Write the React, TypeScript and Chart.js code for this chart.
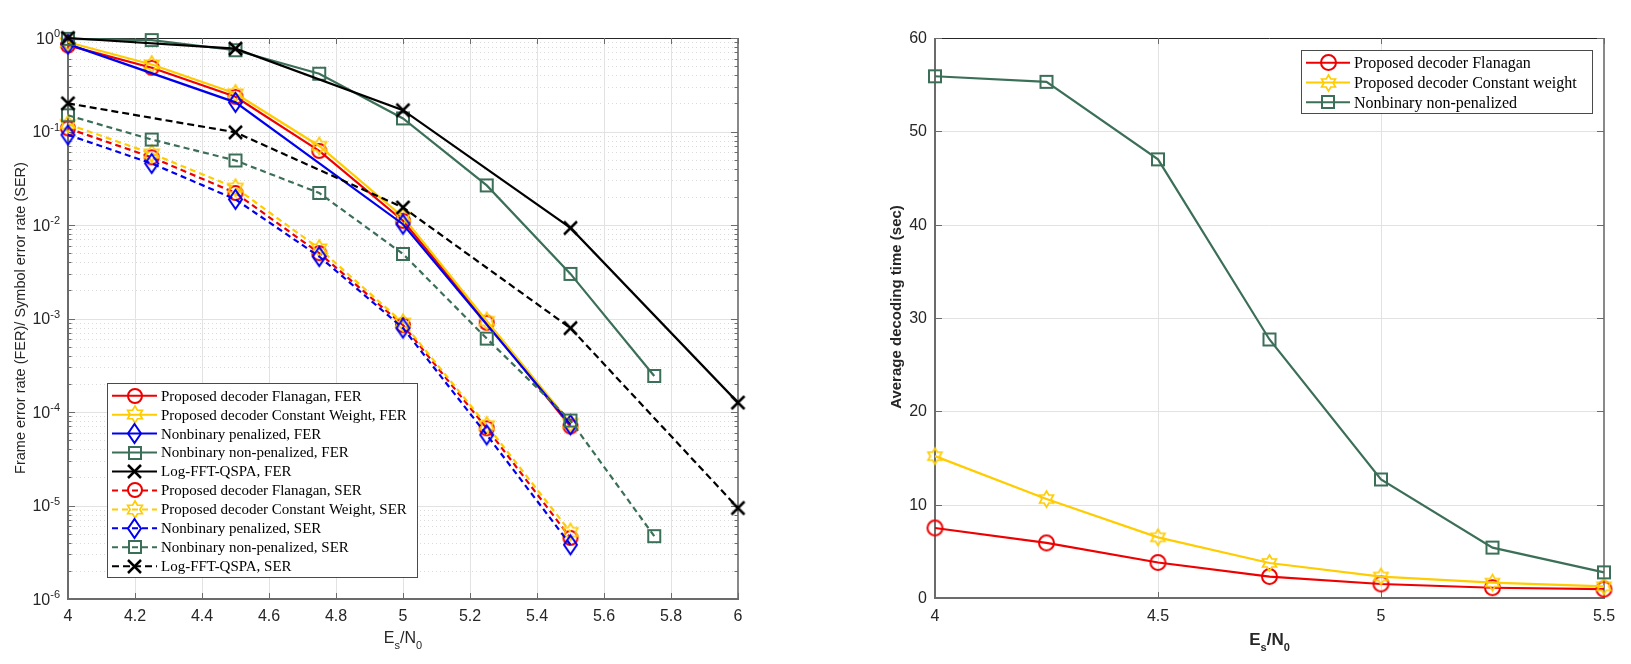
import React, { useEffect, useRef } from "react";
import { Chart, registerables } from "chart.js";

Chart.register(...registerables);

// ---------------- Data: left panel (error rates) ----------------
const SNR_SEVEN = [4, 4.25, 4.5, 4.75, 5, 5.25, 5.5];
const SNR_EIGHT = [4, 4.25, 4.5, 4.75, 5, 5.25, 5.5, 5.75];
const SNR_PENALIZED = [4, 4.5, 5, 5.5];
const SNR_LOGFFT = [4, 4.5, 5, 5.5, 6];

const flanaganFER = [0.835, 0.48, 0.235, 0.062, 0.0111, 9.0e-4, 7.0e-5];
const constantWeightFER = [0.9, 0.52, 0.255, 0.07, 0.0122, 9.4e-4, 7.6e-5];
const penalizedFER = [0.86, 0.205, 0.0102, 7.3e-5];
const nonPenalizedFER = [0.98, 0.95, 0.74, 0.415, 0.138, 0.0265, 0.003, 2.43e-4];
const logFftFER = [1.0, 0.77, 0.169, 0.0093, 1.26e-4];

const flanaganSER = [0.108, 0.053, 0.022, 0.005, 8.5e-4, 6.7e-5, 4.5e-6];
const constantWeightSER = [0.12, 0.058, 0.025, 0.0056, 9.0e-4, 7.2e-5, 5.2e-6];
const penalizedSER = [0.092, 0.0455, 0.0188, 0.0046, 7.9e-4, 5.7e-5, 3.8e-6];
const nonPenalizedSER = [0.149, 0.082, 0.049, 0.022, 0.0049, 6.1e-4, 8.1e-5, 4.7e-6];
const logFftSER = [0.2, 0.098, 0.0154, 7.9e-4, 9.4e-6];

// ---------------- Data: right panel (decoding time) ----------------
const SNR_TIME = [4, 4.25, 4.5, 4.75, 5, 5.25, 5.5];
const timeFlanagan = [7.5, 5.9, 3.8, 2.3, 1.5, 1.1, 0.95];
const timeConstantWeight = [15.2, 10.6, 6.5, 3.75, 2.3, 1.65, 1.25];
const timeNonPenalized = [55.9, 55.3, 47.0, 27.7, 12.7, 5.4, 2.75];

// ---------------- Ticks / labels ----------------
const LEFT_X_TICKS = [4, 4.2, 4.4, 4.6, 4.8, 5, 5.2, 5.4, 5.6, 5.8, 6];
const LEFT_X_TICK_LABELS = ["4", "4.2", "4.4", "4.6", "4.8", "5", "5.2", "5.4", "5.6", "5.8", "6"];
const LEFT_Y_EXPONENTS = [0, -1, -2, -3, -4, -5, -6];
const RIGHT_X_TICKS = [4, 4.5, 5, 5.5];
const RIGHT_X_TICK_LABELS = ["4", "4.5", "5", "5.5"];
const RIGHT_Y_TICKS = [0, 10, 20, 30, 40, 50, 60];
const RIGHT_Y_TICK_LABELS = ["0", "10", "20", "30", "40", "50", "60"];

const LEFT_Y_TITLE = "Frame error rate (FER)/ Symbol error rate (SER)";
const RIGHT_Y_TITLE = "Average decoding time (sec)";

// ---------------- Styles ----------------
const RED = "#ee0000";
const YELLOW = "#ffcc00";
const BLUE = "#0000ee";
const GREEN = "#3c6f58";
const BLACK = "#000000";

const AXIS_GRAY = "#6b6b6b";
const TOP_DARK = "#262626";
const GRID = "#e2e2e2";
const MINOR_GRID = "#dadada";
const TEXT = "#262626";
const TICK_FONT = '16px "Liberation Sans Narrow", "Liberation Sans", Arial, sans-serif';
const EXP_FONT = '11px "Liberation Sans Narrow", "Liberation Sans", Arial, sans-serif';

const CANVAS_L_W = 800;
const CANVAS_R_X = 800;
const CANVAS_R_W = 831;
const H = 664;

type MarkerKind = "circle" | "hexagram" | "diamond" | "square" | "x";

function makeMarker(kind: MarkerKind, color: string, w: number, h: number, lw: number): HTMLCanvasElement {
  const pad = Math.ceil(lw) + 2;
  const cw = Math.ceil(w) + pad * 2;
  const ch = Math.ceil(h) + pad * 2;
  const c = document.createElement("canvas");
  c.width = cw;
  c.height = ch;
  const ctx = c.getContext("2d")!;
  ctx.strokeStyle = color;
  ctx.lineWidth = lw;
  ctx.lineJoin = "miter";
  const cx = cw / 2;
  const cy = ch / 2;
  ctx.beginPath();
  if (kind === "circle") {
    ctx.arc(cx, cy, w / 2, 0, Math.PI * 2);
  } else if (kind === "square") {
    ctx.rect(cx - w / 2, cy - h / 2, w, h);
  } else if (kind === "diamond") {
    ctx.moveTo(cx, cy - h / 2);
    ctx.lineTo(cx + w / 2, cy);
    ctx.lineTo(cx, cy + h / 2);
    ctx.lineTo(cx - w / 2, cy);
    ctx.closePath();
  } else if (kind === "hexagram") {
    const R = h / 2;
    const r = R / Math.sqrt(3);
    for (let i = 0; i < 12; i++) {
      const a = -Math.PI / 2 + (i * Math.PI) / 6;
      const rr = i % 2 === 0 ? R : r;
      const px = cx + rr * Math.cos(a);
      const py = cy + rr * Math.sin(a);
      if (i === 0) ctx.moveTo(px, py);
      else ctx.lineTo(px, py);
    }
    ctx.closePath();
  } else {
    ctx.moveTo(cx - w / 2, cy - h / 2);
    ctx.lineTo(cx + w / 2, cy + h / 2);
    ctx.moveTo(cx + w / 2, cy - h / 2);
    ctx.lineTo(cx - w / 2, cy + h / 2);
  }
  ctx.stroke();
  return c;
}

type Series = {
  label: string;
  xs: number[];
  ys: number[];
  color: string;
  marker: HTMLCanvasElement;
  dash: number[];
};

function hLine(ctx: CanvasRenderingContext2D, x1: number, x2: number, y: number) {
  ctx.beginPath();
  ctx.moveTo(x1, y);
  ctx.lineTo(x2, y);
  ctx.stroke();
}
function vLine(ctx: CanvasRenderingContext2D, x: number, y1: number, y2: number) {
  ctx.beginPath();
  ctx.moveTo(x, y1);
  ctx.lineTo(x, y2);
  ctx.stroke();
}
const snap = (v: number) => Math.round(v) + 0.5;

function drawFrame(ctx: CanvasRenderingContext2D, a: any) {
  ctx.save();
  ctx.setLineDash([]);
  ctx.strokeStyle = TOP_DARK;
  ctx.lineWidth = 1;
  hLine(ctx, a.left, a.right, snap(a.top));
  ctx.strokeStyle = AXIS_GRAY;
  ctx.lineWidth = 1.6;
  vLine(ctx, a.right, a.top, a.bottom);
  ctx.lineWidth = 2;
  vLine(ctx, Math.round(a.left), a.top, a.bottom + 1);
  hLine(ctx, a.left - 1, a.right + 1, Math.round(a.bottom));
  ctx.restore();
}

function drawSubLabel(
  ctx: CanvasRenderingContext2D,
  cx: number,
  baseline: number,
  weight: string,
  size: number,
  subSize: number
) {
  const big = `${weight} ${size}px "Liberation Sans", Arial, sans-serif`;
  const small = `${weight} ${subSize}px "Liberation Sans", Arial, sans-serif`;
  const parts: [string, boolean][] = [
    ["E", false],
    ["s", true],
    ["/N", false],
    ["0", true],
  ];
  let total = 0;
  const widths: number[] = [];
  for (const [t, sub] of parts) {
    ctx.font = sub ? small : big;
    const w = ctx.measureText(t).width;
    widths.push(w);
    total += w;
  }
  let x = cx - total / 2;
  ctx.fillStyle = TEXT;
  ctx.textAlign = "left";
  ctx.textBaseline = "alphabetic";
  parts.forEach(([t, sub], i) => {
    ctx.font = sub ? small : big;
    ctx.fillText(t, x, sub ? baseline + 6 : baseline);
    x += widths[i];
  });
}

function drawRotated(ctx: CanvasRenderingContext2D, text: string, cx: number, cy: number, font: string) {
  ctx.save();
  ctx.translate(cx, cy);
  ctx.rotate(-Math.PI / 2);
  ctx.font = font;
  ctx.fillStyle = TEXT;
  ctx.textAlign = "center";
  ctx.textBaseline = "middle";
  ctx.fillText(text, 0, 0);
  ctx.restore();
}

type LegendCfg = {
  x: number;
  y: number;
  w: number;
  h: number;
  row0: number;
  step: number;
  lineX1: number;
  lineX2: number;
  textX: number;
  font: string;
  lineWidth: number;
};

function drawLegend(ctx: CanvasRenderingContext2D, series: Series[], L: LegendCfg) {
  ctx.save();
  ctx.fillStyle = "#ffffff";
  ctx.fillRect(L.x, L.y, L.w, L.h);
  ctx.strokeStyle = "#4a4a4a";
  ctx.lineWidth = 1;
  ctx.setLineDash([]);
  ctx.strokeRect(snap(L.x), snap(L.y), Math.round(L.w), Math.round(L.h));
  series.forEach((s, i) => {
    const y = L.row0 + i * L.step;
    ctx.strokeStyle = s.color;
    ctx.lineWidth = L.lineWidth;
    ctx.setLineDash(s.dash);
    hLine(ctx, L.lineX1, L.lineX2, y);
    ctx.setLineDash([]);
    const mx = (L.lineX1 + L.lineX2) / 2;
    ctx.drawImage(s.marker, Math.round(mx - s.marker.width / 2), Math.round(y - s.marker.height / 2));
    ctx.fillStyle = "#000";
    ctx.font = L.font;
    ctx.textAlign = "left";
    ctx.textBaseline = "middle";
    ctx.fillText(s.label, L.textX, y + 1);
  });
  ctx.restore();
}

function makeDatasets(series: Series[]) {
  const n = series.length;
  return series.map((s, i) => ({
    label: s.label,
    data: s.xs.map((x, k) => ({ x, y: s.ys[k] })),
    borderColor: s.color,
    backgroundColor: s.color,
    borderWidth: 2.2,
    borderDash: s.dash,
    pointStyle: s.marker,
    pointRadius: 6,
    pointHoverRadius: 6,
    fill: false,
    tension: 0,
    clip: false as any,
    order: n - i,
  }));
}

function hiddenScale(type: string, min: number, max: number) {
  return {
    type,
    min,
    max,
    display: true,
    grid: { display: false, drawTicks: false },
    border: { display: false },
    ticks: { display: false },
    title: { display: false },
  };
}

function leftConfig(): any {
  const circ = makeMarker("circle", RED, 14, 14, 2);
  const hexY = makeMarker("hexagram", YELLOW, 16, 17, 1.7);
  const dia = makeMarker("diamond", BLUE, 13, 19, 2);
  const sq = makeMarker("square", GREEN, 12, 12, 2);
  const xm = makeMarker("x", BLACK, 13, 13, 2.5);
  const D = [6, 4];
  const series: Series[] = [
    { label: "Proposed decoder Flanagan, FER", xs: SNR_SEVEN, ys: flanaganFER, color: RED, marker: circ, dash: [] },
    { label: "Proposed decoder Constant Weight, FER", xs: SNR_SEVEN, ys: constantWeightFER, color: YELLOW, marker: hexY, dash: [] },
    { label: "Nonbinary penalized, FER", xs: SNR_PENALIZED, ys: penalizedFER, color: BLUE, marker: dia, dash: [] },
    { label: "Nonbinary non-penalized, FER", xs: SNR_EIGHT, ys: nonPenalizedFER, color: GREEN, marker: sq, dash: [] },
    { label: "Log-FFT-QSPA, FER", xs: SNR_LOGFFT, ys: logFftFER, color: BLACK, marker: xm, dash: [] },
    { label: "Proposed decoder Flanagan, SER", xs: SNR_SEVEN, ys: flanaganSER, color: RED, marker: circ, dash: D },
    { label: "Proposed decoder Constant Weight, SER", xs: SNR_SEVEN, ys: constantWeightSER, color: YELLOW, marker: hexY, dash: D },
    { label: "Nonbinary penalized, SER", xs: SNR_SEVEN, ys: penalizedSER, color: BLUE, marker: dia, dash: D },
    { label: "Nonbinary non-penalized, SER", xs: SNR_EIGHT, ys: nonPenalizedSER, color: GREEN, marker: sq, dash: D },
    { label: "Log-FFT-QSPA, SER", xs: SNR_LOGFFT, ys: logFftSER, color: BLACK, marker: xm, dash: [7, 4] },
  ];

  const plugin = {
    id: "matlabLeft",
    beforeDatasetsDraw(chart: any) {
      const { ctx, chartArea: a, scales } = chart;
      const xs = scales.x;
      const ys = scales.y;
      ctx.save();
      ctx.strokeStyle = MINOR_GRID;
      ctx.lineWidth = 1;
      ctx.setLineDash([1, 3]);
      for (let d = -6; d < 0; d++) {
        for (let k = 2; k <= 9; k++) {
          const py = snap(ys.getPixelForValue(k * Math.pow(10, d)));
          hLine(ctx, a.left, a.right, py);
        }
      }
      ctx.setLineDash([]);
      ctx.strokeStyle = GRID;
      for (const e of LEFT_Y_EXPONENTS) {
        if (e === 0 || e === -6) continue;
        hLine(ctx, a.left, a.right, snap(ys.getPixelForValue(Math.pow(10, e))));
      }
      for (const v of LEFT_X_TICKS) {
        if (v === 4 || v === 6) continue;
        vLine(ctx, snap(xs.getPixelForValue(v)), a.top, a.bottom);
      }
      drawFrame(ctx, a);
      ctx.strokeStyle = AXIS_GRAY;
      ctx.lineWidth = 1;
      for (const v of LEFT_X_TICKS) {
        const px = snap(xs.getPixelForValue(v));
        vLine(ctx, px, a.bottom, a.bottom - 6);
        vLine(ctx, px, a.top, a.top + 6);
      }
      for (let d = -6; d <= 0; d++) {
        const py = snap(ys.getPixelForValue(Math.pow(10, d)));
        hLine(ctx, a.left, a.left + 7, py);
        hLine(ctx, a.right, a.right - 7, py);
        if (d < 0) {
          for (let k = 2; k <= 9; k++) {
            const pm = snap(ys.getPixelForValue(k * Math.pow(10, d)));
            hLine(ctx, a.left, a.left + 3.5, pm);
            hLine(ctx, a.right, a.right - 3.5, pm);
          }
        }
      }
      ctx.restore();
    },
    afterDraw(chart: any) {
      const { ctx, chartArea: a, scales } = chart;
      const xs = scales.x;
      const ys = scales.y;
      ctx.save();
      ctx.fillStyle = TEXT;
      ctx.font = TICK_FONT;
      ctx.textAlign = "center";
      ctx.textBaseline = "middle";
      LEFT_X_TICKS.forEach((v, i) => {
        ctx.fillText(LEFT_X_TICK_LABELS[i], xs.getPixelForValue(v), 617);
      });
      for (const e of LEFT_Y_EXPONENTS) {
        const py = ys.getPixelForValue(Math.pow(10, e));
        const expStr = String(e);
        ctx.font = EXP_FONT;
        const we = ctx.measureText(expStr).width;
        ctx.font = TICK_FONT;
        const wb = ctx.measureText("10").width;
        const right = a.left - 8;
        ctx.textAlign = "left";
        ctx.textBaseline = "middle";
        ctx.fillText("10", right - we - wb, py + 1.5);
        ctx.font = EXP_FONT;
        ctx.fillText(expStr, right - we, py - 4);
      }
      drawRotated(ctx, LEFT_Y_TITLE, 21, 318, '14.5px "Liberation Sans", Arial, sans-serif');
      drawSubLabel(ctx, (a.left + a.right) / 2, 643, "normal", 16, 11);
      drawLegend(ctx, series, {
        x: 107,
        y: 383,
        w: 310,
        h: 194,
        row0: 395.7,
        step: 18.95,
        lineX1: 112,
        lineX2: 157,
        textX: 161,
        font: '15px "Liberation Serif", "Times New Roman", serif',
        lineWidth: 2,
      });
      ctx.restore();
    },
  };

  return {
    type: "line",
    data: { datasets: makeDatasets(series) },
    options: {
      animation: false,
      responsive: false,
      maintainAspectRatio: false,
      events: [],
      layout: { padding: { left: 68, right: CANVAS_L_W - 738, top: 38, bottom: H - 599 }, autoPadding: false },
      plugins: { legend: { display: false }, tooltip: { enabled: false }, title: { display: false } },
      scales: {
        x: hiddenScale("linear", 4, 6),
        y: hiddenScale("logarithmic", 1e-6, 1),
      },
    },
    plugins: [plugin],
  };
}

function rightConfig(): any {
  const circ = makeMarker("circle", RED, 15, 15, 2);
  const hexY = makeMarker("hexagram", YELLOW, 15, 16, 1.7);
  const sq = makeMarker("square", GREEN, 12, 12, 2);
  const series: Series[] = [
    { label: "Proposed decoder Flanagan", xs: SNR_TIME, ys: timeFlanagan, color: RED, marker: circ, dash: [] },
    { label: "Proposed decoder Constant weight", xs: SNR_TIME, ys: timeConstantWeight, color: YELLOW, marker: hexY, dash: [] },
    { label: "Nonbinary non-penalized", xs: SNR_TIME, ys: timeNonPenalized, color: GREEN, marker: sq, dash: [] },
  ];
  const ox = CANVAS_R_X;

  const plugin = {
    id: "matlabRight",
    beforeDatasetsDraw(chart: any) {
      const { ctx, chartArea: a, scales } = chart;
      const xs = scales.x;
      const ys = scales.y;
      ctx.save();
      ctx.strokeStyle = GRID;
      ctx.lineWidth = 1;
      for (const v of RIGHT_Y_TICKS) {
        if (v === 0 || v === 60) continue;
        hLine(ctx, a.left, a.right, snap(ys.getPixelForValue(v)));
      }
      for (const v of RIGHT_X_TICKS) {
        if (v === 4 || v === 5.5) continue;
        vLine(ctx, snap(xs.getPixelForValue(v)), a.top, a.bottom);
      }
      drawFrame(ctx, a);
      ctx.strokeStyle = AXIS_GRAY;
      ctx.lineWidth = 1;
      for (const v of RIGHT_X_TICKS) {
        const px = snap(xs.getPixelForValue(v));
        vLine(ctx, px, a.bottom, a.bottom - 6);
        vLine(ctx, px, a.top, a.top + 6);
      }
      for (const v of RIGHT_Y_TICKS) {
        const py = snap(ys.getPixelForValue(v));
        hLine(ctx, a.left, a.left + 7, py);
        hLine(ctx, a.right, a.right - 7, py);
      }
      ctx.restore();
    },
    afterDraw(chart: any) {
      const { ctx, chartArea: a, scales } = chart;
      const xs = scales.x;
      const ys = scales.y;
      ctx.save();
      ctx.fillStyle = TEXT;
      ctx.font = TICK_FONT;
      ctx.textAlign = "center";
      ctx.textBaseline = "middle";
      RIGHT_X_TICKS.forEach((v, i) => {
        ctx.fillText(RIGHT_X_TICK_LABELS[i], xs.getPixelForValue(v), 617);
      });
      ctx.textAlign = "right";
      RIGHT_Y_TICKS.forEach((v, i) => {
        ctx.fillText(RIGHT_Y_TICK_LABELS[i], a.left - 8, ys.getPixelForValue(v) + 0.5);
      });
      drawRotated(ctx, RIGHT_Y_TITLE, 897 - ox, 307, 'bold 15px "Liberation Sans", Arial, sans-serif');
      drawSubLabel(ctx, (a.left + a.right) / 2, 645, "bold", 17, 11);
      drawLegend(ctx, series, {
        x: 1301 - ox,
        y: 50,
        w: 291,
        h: 63,
        row0: 62.7,
        step: 19.8,
        lineX1: 1306 - ox,
        lineX2: 1350 - ox,
        textX: 1354 - ox,
        font: '16px "Liberation Serif", "Times New Roman", serif',
        lineWidth: 2,
      });
      ctx.restore();
    },
  };

  return {
    type: "line",
    data: { datasets: makeDatasets(series) },
    options: {
      animation: false,
      responsive: false,
      maintainAspectRatio: false,
      events: [],
      layout: { padding: { left: 935 - ox, right: CANVAS_R_W - (1604 - ox), top: 38, bottom: H - 598 }, autoPadding: false },
      plugins: { legend: { display: false }, tooltip: { enabled: false }, title: { display: false } },
      scales: {
        x: hiddenScale("linear", 4, 5.5),
        y: hiddenScale("linear", 0, 60),
      },
    },
    plugins: [plugin],
  };
}

export default function App() {
  const leftRef = useRef<HTMLCanvasElement>(null);
  const rightRef = useRef<HTMLCanvasElement>(null);
  useEffect(() => {
    const left = new Chart(leftRef.current!, leftConfig());
    const right = new Chart(rightRef.current!, rightConfig());
    return () => {
      left.destroy();
      right.destroy();
    };
  }, []);
  return (
    <div
      style={{
        position: "absolute",
        left: 0,
        top: 0,
        width: 1631,
        height: H,
        background: "#ffffff",
        overflow: "hidden",
      }}
    >
      <canvas
        ref={leftRef}
        width={CANVAS_L_W}
        height={H}
        style={{ position: "absolute", left: 0, top: 0, width: CANVAS_L_W, height: H }}
      />
      <canvas
        ref={rightRef}
        width={CANVAS_R_W}
        height={H}
        style={{ position: "absolute", left: CANVAS_R_X, top: 0, width: CANVAS_R_W, height: H }}
      />
    </div>
  );
}
